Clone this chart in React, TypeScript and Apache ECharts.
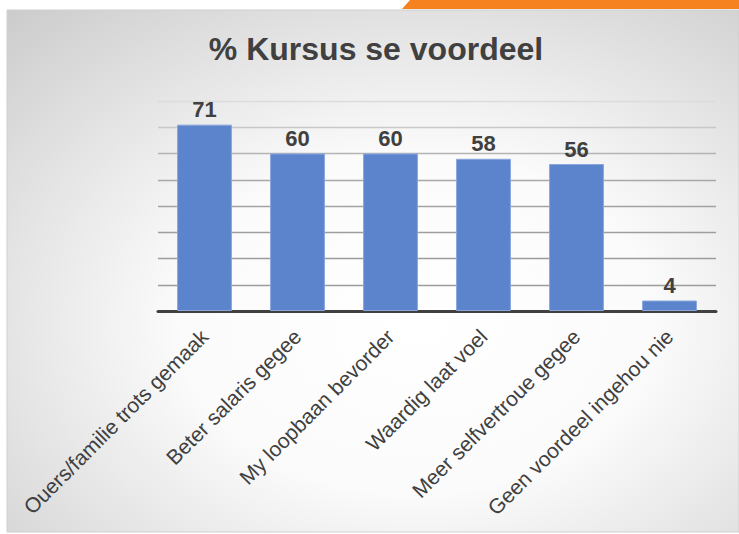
import React, { useEffect, useRef } from "react";
import * as echarts from "echarts";

const titleText = "% Kursus se voordeel";
const categories = [
  "Ouers/familie trots gemaak",
  "Beter salaris gegee",
  "My loopbaan bevorder",
  "Waardig laat voel",
  "Meer selfvertroue gegee",
  "Geen voordeel ingehou nie",
];
const values = [71, 60, 60, 58, 56, 4];
const yMin = 0;
const yMax = 80;
const yInterval = 10;

const FONT = "'Liberation Sans', Arial, Helvetica, sans-serif";
const TEXT = "#404040";

export default function App() {
  const ref = useRef<HTMLDivElement>(null);

  useEffect(() => {
    if (!ref.current) return;
    const chart = echarts.init(ref.current, null, { renderer: "svg" });
    const option: any = {
      animation: false,
      backgroundColor: "#ffffff",
      graphic: [
        {
          type: "rect",
          z: -100,
          silent: true,
          shape: { x: 7, y: 10, width: 732, height: 522 },
          style: {
            fill: new echarts.graphic.RadialGradient(0.56, 0.6, 0.92, [
              { offset: 0, color: "#ffffff" },
              { offset: 0.35, color: "#fbfbfb" },
              { offset: 1, color: "#c2c2c2" },
            ]),
            stroke: "#cfcfcf",
            lineWidth: 1,
          },
        },
        {
          type: "polygon",
          z: -99,
          silent: true,
          shape: {
            points: [
              [410, 0],
              [739, 0],
              [739, 9],
              [402, 9],
            ],
          },
          style: { fill: "#f5821f" },
        },
        {
          type: "text",
          z: 10,
          silent: true,
          x: 376,
          y: 49,
          style: {
            text: titleText,
            textAlign: "center",
            textVerticalAlign: "middle",
            fontFamily: FONT,
            fontSize: 32,
            fontWeight: "bold",
            fill: TEXT,
          },
        },
      ],
      grid: { left: 158, right: 23, top: 101, bottom: 223 },
      xAxis: {
        type: "category",
        data: categories,
        axisTick: { show: false },
        axisLine: { show: true, lineStyle: { color: "#404040", width: 3 } },
        axisLabel: {
          interval: 0,
          rotate: 45,
          align: "right",
          verticalAlign: "middle",
          margin: 22,
          fontFamily: FONT,
          fontSize: 21,
          color: TEXT,
        },
      },
      yAxis: {
        type: "value",
        min: yMin,
        max: yMax,
        interval: yInterval,
        axisLabel: { show: false },
        axisLine: { show: false },
        axisTick: { show: false },
        splitLine: {
          show: true,
          lineStyle: {
            width: 1.3,
            color: [
              "#404040",
              "#9c9c9c",
              "#9c9c9c",
              "#9e9e9e",
              "#a2a2a2",
              "#a8a8a8",
              "#b4b4b4",
              "#c8c8c8",
              "#dcdcdc",
            ],
          },
        },
      },
      series: [
        {
          type: "bar",
          data: values,
          barWidth: "59%",
          itemStyle: {
            color: "#5b84cc",
            borderColor: "#8aa6dc",
            borderWidth: 1,
          },
          label: {
            show: true,
            position: "top",
            distance: 4,
            fontFamily: FONT,
            fontSize: 22,
            fontWeight: "bold",
            color: TEXT,
          },
        },
      ],
    };
    chart.setOption(option);
    return () => chart.dispose();
  }, []);

  return (
    <div
      ref={ref}
      style={{ position: "absolute", left: 0, top: 0, width: 739, height: 534 }}
    />
  );
}
